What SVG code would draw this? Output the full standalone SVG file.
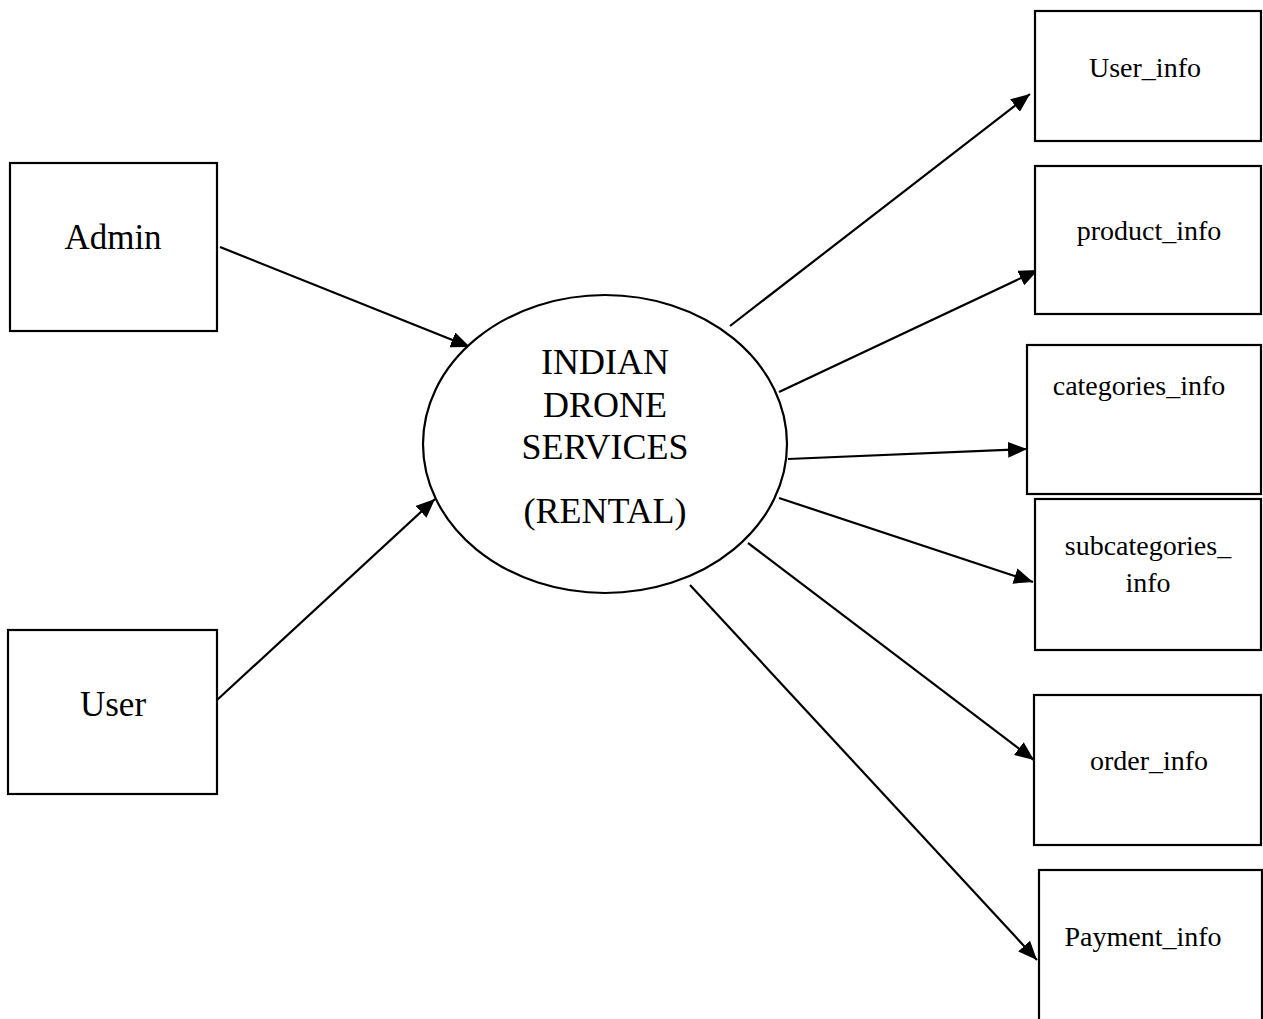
<svg xmlns="http://www.w3.org/2000/svg" width="1263" height="1019" viewBox="0 0 1263 1019">
<style>
.box{fill:#fff;stroke:#000;stroke-width:2.2}
.lbl{font-family:"Liberation Serif","Times New Roman",serif;fill:#000;text-anchor:middle}
.big{font-size:35px}
.mid{font-size:36px}
.sm{font-size:28px}
.edge{stroke:#000;stroke-width:2.2;fill:none;marker-end:url(#arr)}
</style>
<defs>
<marker id="arr" markerUnits="userSpaceOnUse" markerWidth="20" markerHeight="16" refX="19" refY="8" orient="auto">
<path d="M0,0 L19,8 L0,16 z" fill="#000"/>
</marker>
</defs>
<rect width="1263" height="1019" fill="#fff"/>
<g id="connectors">
<line class="edge" x1="220" y1="247" x2="470" y2="347"/>
<line class="edge" x1="217" y1="700" x2="435" y2="499"/>
<line class="edge" x1="730" y1="326" x2="1030" y2="94"/>
<line class="edge" x1="779" y1="392" x2="1038" y2="270"/>
<line class="edge" x1="788" y1="459" x2="1027" y2="449"/>
<line class="edge" x1="779" y1="498" x2="1033" y2="582"/>
<line class="edge" x1="748" y1="543" x2="1034" y2="760"/>
<line class="edge" x1="690" y1="585" x2="1037" y2="960"/>
</g>
<g id="admin">
<rect class="box" x="10" y="163" width="207" height="168"/>
<text class="lbl big" x="113" y="249">Admin</text>
</g>
<g id="user">
<rect class="box" x="8" y="630" width="209" height="164"/>
<text class="lbl big" x="113" y="716">User</text>
</g>
<g id="system">
<ellipse class="box" cx="605" cy="444" rx="182" ry="149"/>
<text class="lbl mid" x="605" y="374">INDIAN</text>
<text class="lbl mid" x="605" y="417">DRONE</text>
<text class="lbl mid" x="605" y="459">SERVICES</text>
<text class="lbl mid" x="605" y="523">(RENTAL)</text>
</g>
<g id="user_info">
<rect class="box" x="1035" y="11" width="226" height="130"/>
<text class="lbl sm" x="1145" y="77">User_info</text>
</g>
<g id="product_info">
<rect class="box" x="1035" y="166" width="226" height="148"/>
<text class="lbl sm" x="1149" y="240">product_info</text>
</g>
<g id="categories_info">
<rect class="box" x="1027" y="345" width="234" height="149"/>
<text class="lbl sm" x="1139" y="395">categories_info</text>
</g>
<g id="subcategories_info">
<rect class="box" x="1035" y="499" width="226" height="151"/>
<text class="lbl sm" x="1148" y="555">subcategories_</text>
<text class="lbl sm" x="1148" y="592">info</text>
</g>
<g id="order_info">
<rect class="box" x="1034" y="695" width="227" height="150"/>
<text class="lbl sm" x="1149" y="770">order_info</text>
</g>
<g id="payment_info">
<rect class="box" x="1039" y="870" width="223" height="170"/>
<text class="lbl sm" x="1143" y="946">Payment_info</text>
</g>
</svg>
